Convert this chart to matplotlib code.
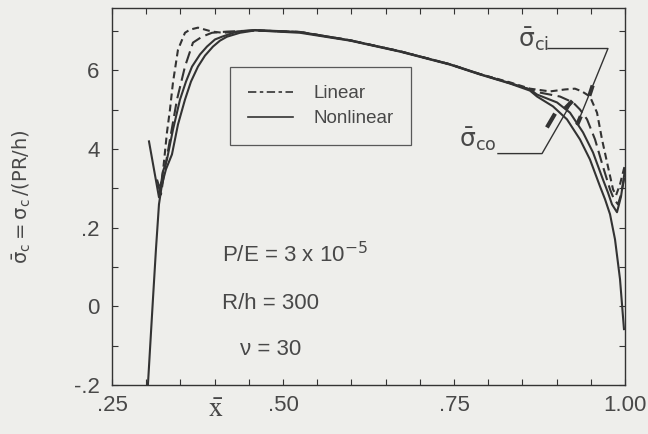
import matplotlib
matplotlib.use('Agg')
import matplotlib.pyplot as plt
from matplotlib.lines import Line2D

# ---------------- data ----------------
x_nl_co = [0.3020, 0.3056, 0.3099, 0.3143, 0.3187, 0.3231, 0.3289, 0.3377, 0.3465, 0.3567,
           0.3655, 0.3757, 0.3860, 0.3977, 0.4079, 0.4181, 0.4371, 0.4591, 0.5249, 0.5980,
           0.6711, 0.7442, 0.7880, 0.8319, 0.8611, 0.8714, 0.8947, 0.9152, 0.9342, 0.9488,
           0.9634, 0.9708, 0.9781, 0.9854, 0.9927, 0.9985]
y_nl_co = [-0.216, -0.109, 0.018, 0.145, 0.259, 0.310, 0.348, 0.386, 0.462, 0.525,
           0.571, 0.609, 0.637, 0.660, 0.675, 0.685, 0.695, 0.701, 0.695, 0.675,
           0.647, 0.614, 0.589, 0.566, 0.548, 0.533, 0.508, 0.475, 0.424, 0.373,
           0.305, 0.272, 0.234, 0.170, 0.069, -0.058]

x_nl_ci = [0.3041, 0.3114, 0.3187, 0.3246, 0.3304, 0.3392, 0.3494, 0.3582, 0.3670, 0.3787,
           0.3889, 0.4006, 0.4108, 0.4328, 0.4591, 0.5249, 0.5980, 0.6711, 0.7442, 0.7880,
           0.8319, 0.8611, 0.8714, 0.9006, 0.9196, 0.9386, 0.9532, 0.9678, 0.9751, 0.9810,
           0.9883, 0.9942, 1.0]
y_nl_ci = [0.419, 0.348, 0.277, 0.343, 0.373, 0.449, 0.525, 0.571, 0.609, 0.640,
           0.660, 0.678, 0.685, 0.698, 0.702, 0.697, 0.676, 0.648, 0.615, 0.590,
           0.567, 0.551, 0.538, 0.518, 0.492, 0.442, 0.391, 0.322, 0.289, 0.259,
           0.239, 0.279, 0.348]

x_li_ci = [0.3158, 0.3202, 0.3246, 0.3304, 0.3348, 0.3392, 0.3465, 0.3567, 0.3640, 0.3757,
           0.3860, 0.3962, 0.4123, 0.4371, 0.4591, 0.5249, 0.5980, 0.6711, 0.7442, 0.7880,
           0.8319, 0.8611, 0.8904, 0.9123, 0.9269, 0.9371, 0.9488, 0.9591, 0.9664, 0.9751,
           0.9825, 0.9869, 0.9927, 1.0]
y_li_ci = [0.322, 0.297, 0.343, 0.442, 0.500, 0.569, 0.652, 0.695, 0.703, 0.708,
           0.703, 0.698, 0.695, 0.698, 0.701, 0.697, 0.676, 0.648, 0.615, 0.590,
           0.569, 0.553, 0.546, 0.551, 0.553, 0.546, 0.533, 0.492, 0.424, 0.355,
           0.297, 0.282, 0.310, 0.360]

x_li_co = [0.3172, 0.3216, 0.3260, 0.3348, 0.3450, 0.3567, 0.3684, 0.3816, 0.3962, 0.4181,
           0.4591, 0.5249, 0.5980, 0.6711, 0.7442, 0.7880, 0.8319, 0.8611, 0.8757, 0.9050,
           0.9240, 0.9342, 0.9445, 0.9562, 0.9678, 0.9781, 0.9839, 0.9898, 0.9942, 1.0]
y_li_co = [0.310, 0.284, 0.335, 0.424, 0.525, 0.609, 0.670, 0.685, 0.695, 0.698,
           0.701, 0.697, 0.676, 0.648, 0.615, 0.590, 0.567, 0.551, 0.543, 0.533,
           0.518, 0.500, 0.475, 0.424, 0.355, 0.297, 0.272, 0.259, 0.284, 0.335]

x_ticks = [0.25 + 0.05 * i for i in range(16)]
x_labeled = [0.25, 0.50, 0.75, 1.00]
x_labels = ['.25', '.50', '.75', '1.00']
y_ticks = [-0.2 + 0.1 * i for i in range(10)]
y_labeled = [-0.2, 0.0, 0.2, 0.4, 0.6]
y_labels = ['-.2', '0', '.2', '4', '6']

legend_labels = ['Linear', 'Nonlinear']

# ---------------- style ----------------
ink = '#333333'
txt = '#484848'
paper = '#eeeeeb'
plt.rcParams['lines.scale_dashes'] = False
plt.rcParams['font.family'] = ['Liberation Sans', 'DejaVu Sans']
plt.rcParams['mathtext.fontset'] = 'dejavusans'

fig = plt.figure(figsize=(6.48, 4.34), dpi=100, facecolor=paper)
ax = fig.add_axes([0.1728, 0.1129, 0.7917, 0.8687], facecolor=paper)

lw = 1.5
ax.plot(x_nl_co, y_nl_co, color=ink, lw=lw)
ax.plot(x_nl_ci, y_nl_ci, color=ink, lw=lw)
ax.plot(x_li_ci, y_li_ci, color=ink, lw=lw, dashes=(5, 3))
ax.plot(x_li_co, y_li_co, color=ink, lw=lw, dashes=(9, 4))

ax.set_xlim(0.25, 1.0)
ax.set_ylim(-0.2, 0.758)

ax.set_xticks(x_ticks)
ax.set_xticklabels([x_labels[x_labeled.index(round(t, 2))] if round(t, 2) in x_labeled else ''
                    for t in x_ticks])
ax.set_yticks(y_ticks)
ax.set_yticklabels([y_labels[y_labeled.index(round(t, 1))] if round(t, 1) in y_labeled else ''
                    for t in y_ticks])
ax.tick_params(direction='in', length=4, width=0.8, color=ink, top=True, right=True,
               labelsize=16, labelcolor=txt)
ax.tick_params(axis='x', pad=7)
ax.tick_params(axis='y', pad=9)
for s in ax.spines.values():
    s.set_color(ink)
    s.set_linewidth(1.0)

# legend
handles = [Line2D([], [], color=ink, lw=1.2, dashes=(6, 2.5, 2.5, 2.5)),
           Line2D([], [], color=ink, lw=1.2)]
leg = ax.legend(handles, legend_labels, loc='upper left', bbox_to_anchor=(0.230, 0.843),
                frameon=True, fancybox=False, prop={'family': 'Liberation Sans', 'size': 13.5},
                handlelength=2.4, handletextpad=1.1, borderpad=0.95, labelspacing=0.42,
                borderaxespad=0)
leg.get_frame().set_edgecolor(ink)
leg.get_frame().set_facecolor(paper)
leg.get_frame().set_linewidth(0.9)
for t in leg.get_texts():
    t.set_color(txt)

# parameter text
ax.text(0.214, 0.347, r'P/E = 3 x 10$^{-5}$', transform=ax.transAxes, fontsize=16,
        color=txt, va='center')
ax.text(0.214, 0.215, 'R/h = 300', transform=ax.transAxes, fontsize=16,
        color=txt, va='center')
ax.text(0.25, 0.093, 'ν = 30', transform=ax.transAxes, fontsize=16,
        color=txt, va='center')

# sigma labels with leaders
ax.text(0.8655, 0.678, r'$\bar{\mathrm{\sigma}}_{\mathrm{ci}}$', fontsize=18, color=txt,
        ha='center', va='center')
ax.plot([0.8874, 0.9751, 0.9298], [0.655, 0.655, 0.462], color=ink, lw=1.0)
ax.plot([0.9518, 0.9488], [0.556, 0.540], color=ink, lw=3)
ax.plot([0.9342, 0.9312], [0.478, 0.466], color=ink, lw=3)

ax.text(0.785, 0.424, r'$\bar{\mathrm{\sigma}}_{\mathrm{co}}$', fontsize=18, color=txt,
        ha='center', va='center')
ax.plot([0.8143, 0.8787, 0.9225], [0.388, 0.388, 0.520], color=ink, lw=1.0)
ax.plot([0.8874, 0.8962], [0.459, 0.485], color=ink, lw=3)
ax.plot([0.9137, 0.9210], [0.505, 0.518], color=ink, lw=3)

# axis labels
fig.text(0.034, 0.546, r'$\bar{\mathrm{\sigma}}_{\mathrm{c}} = \mathrm{\sigma}_{\mathrm{c}}\,\mathrm{/(PR/h)}$',
         rotation=90, fontsize=14, color=txt, ha='center', va='center')
fig.text(0.332, 0.055, r'$\bar{\mathrm{x}}$', math_fontfamily='stix', fontsize=20,
         color=txt, ha='center', va='center')

fig.savefig('out.png', dpi=100, facecolor=paper)
